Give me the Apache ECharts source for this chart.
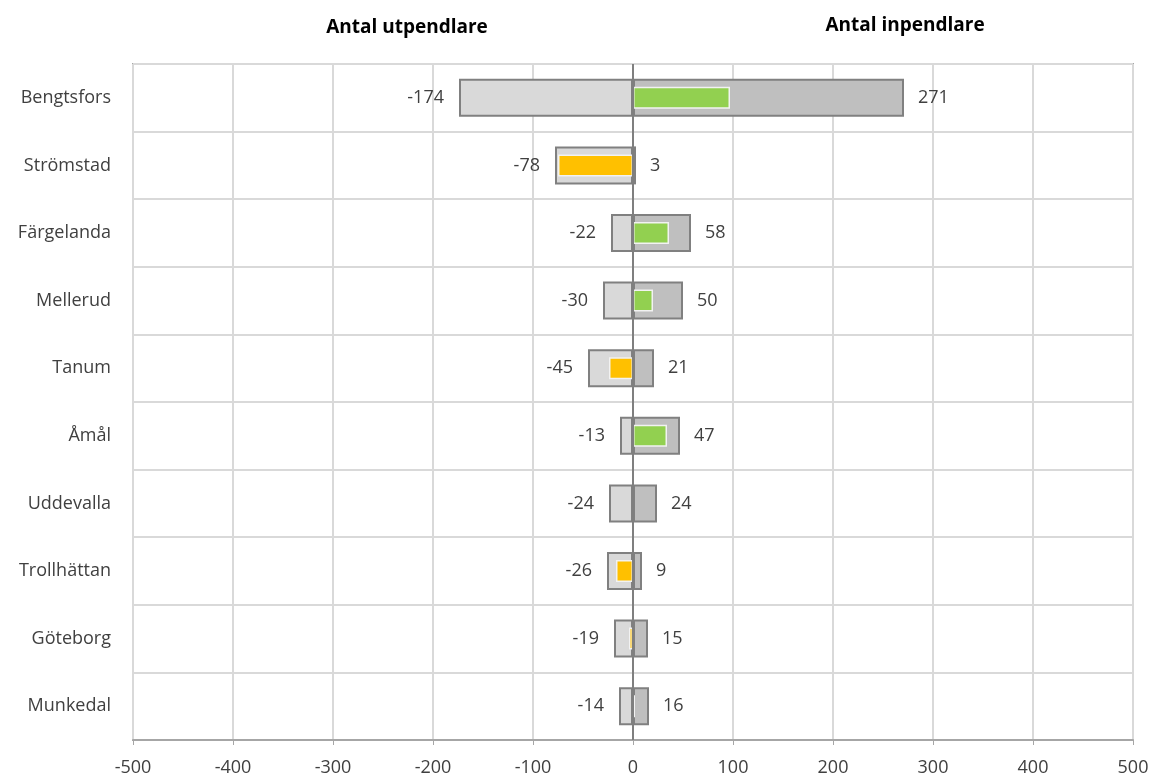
<!DOCTYPE html>
<html>
<head>
<meta charset="utf-8">
<script src="https://cdn.jsdelivr.net/npm/echarts@6/dist/echarts.min.js"></script>
<style>
  html, body { margin: 0; padding: 0; background: #fff; }
  #chart { width: 1154px; height: 781px; }
</style>
</head>
<body>
<div id="chart"></div>
<script>
  // kommuner, uppifrån och ner
  var categories = ['Bengtsfors', 'Strömstad', 'Färgelanda', 'Mellerud', 'Tanum', 'Åmål', 'Uddevalla', 'Trollhättan', 'Göteborg', 'Munkedal']
  var utpendlare = [-174, -78, -22, -30, -45, -13, -24, -26, -19, -14]
  var inpendlare = [271, 3, 58, 50, 21, 47, 24, 9, 15, 16]
  var netto = [97, -75, 36, 20, -24, 34, 0, -17, -4, 2]
  var xTicks = [-500, -400, -300, -200, -100, 0, 100, 200, 300, 400, 500]

  var font = '"Open Sans", "Noto Sans", sans-serif'
  var chart = echarts.init(document.getElementById('chart'))

  chart.setOption({
    animation: false,
    title: [
      {
        text: 'Antal utpendlare',
        left: 402,
        top: 13,
        textAlign: 'center',
        textStyle: { fontFamily: font, fontSize: 19, fontWeight: 'bold', color: '#000' }
      },
      {
        text: 'Antal inpendlare',
        left: 900,
        top: 11,
        textAlign: 'center',
        textStyle: { fontFamily: font, fontSize: 19, fontWeight: 'bold', color: '#000' }
      }
    ],
    grid: {
      left: 133,
      right: 21,
      top: 64,
      bottom: 41,
      show: true,
      borderColor: '#a6a6a6',
      borderWidth: 2
    },
    xAxis: {
      type: 'value',
      min: xTicks[0],
      max: xTicks[xTicks.length - 1],
      interval: 100,
      axisLine: { show: true, lineStyle: { color: '#a6a6a6', width: 2 } },
      axisTick: { show: true, length: 5, lineStyle: { color: '#a6a6a6' } },
      axisLabel: {
        fontFamily: font,
        fontSize: 18,
        color: '#404040',
        margin: 19,
        formatter: function (v) { return String(v) }
      },
      splitLine: { show: true, lineStyle: { color: '#d9d9d9', width: 2 } }
    },
    yAxis: [
      {
        type: 'category',
        data: categories,
        inverse: true,
        axisLine: { show: false },
        axisTick: { show: false },
        axisLabel: { fontFamily: font, fontSize: 18, color: '#404040', margin: 22 },
        splitLine: { show: true, lineStyle: { color: '#d9d9d9', width: 2 } }
      },
      {
        type: 'category',
        data: categories,
        inverse: true,
        position: 'left',
        show: false
      }
    ],
    series: [
      {
        name: 'Utpendlare',
        type: 'bar',
        yAxisIndex: 0,
        stack: 'pend',
        barWidth: 38,
        data: utpendlare,
        itemStyle: { color: '#d9d9d9', borderColor: '#808080', borderWidth: 2 },
        label: {
          show: true,
          position: 'left',
          distance: 15,
          fontFamily: font,
          fontSize: 18,
          color: '#404040'
        }
      },
      {
        name: 'Inpendlare',
        type: 'bar',
        yAxisIndex: 0,
        stack: 'pend',
        barWidth: 38,
        data: inpendlare,
        itemStyle: { color: '#bfbfbf', borderColor: '#808080', borderWidth: 2 },
        label: {
          show: true,
          position: 'right',
          distance: 14,
          fontFamily: font,
          fontSize: 18,
          color: '#404040'
        }
      },
      {
        name: 'Netto',
        type: 'bar',
        yAxisIndex: 1,
        barWidth: 22,
        z: 3,
        data: netto.map(function (v) {
          return {
            value: v,
            itemStyle: { color: v < 0 ? '#ffc000' : '#92d050' }
          }
        }),
        itemStyle: { borderColor: '#f2f2f2', borderWidth: 1.5 },
        markLine: {
          silent: true,
          symbol: 'none',
          label: { show: false },
          lineStyle: { color: '#7f7f7f', width: 2, type: 'solid' },
          data: [{ xAxis: 0 }],
          z: 5
        }
      }
    ]
  })
</script>
</body>
</html>
